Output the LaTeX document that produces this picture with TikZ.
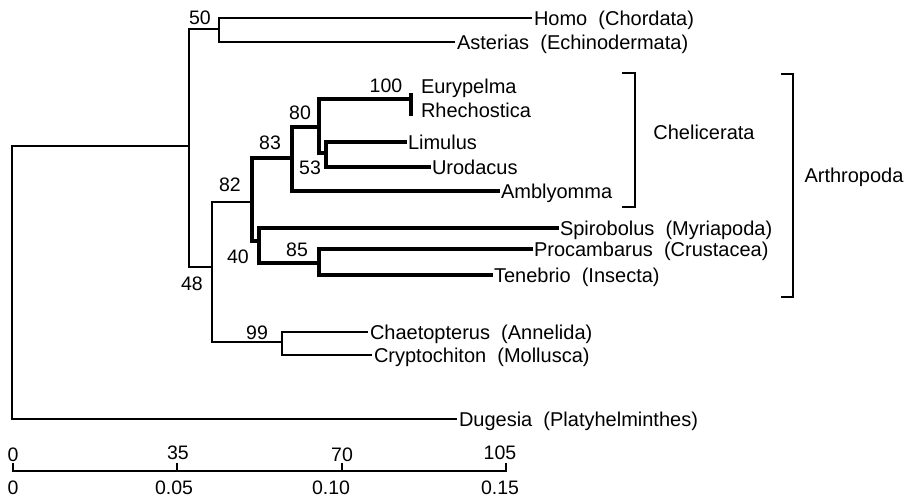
\documentclass[tikz,border=0pt]{standalone}
\usepackage{fontspec}
\setmainfont{Liberation Sans}
\begin{document}
\begin{tikzpicture}[x=1pt,y=-1pt,
  br/.style={line width=1.2pt, line cap=rect, line join=miter},
  brb/.style={line width=3.4pt, line cap=rect, line join=miter},
  lab/.style={anchor=west, inner sep=0pt, outer sep=3pt, text height=14.3pt, text depth=0pt, font=\fontsize{20}{24}\selectfont},
  grp/.style={inner sep=0pt, text height=14.3pt, text depth=0pt, font=\fontsize{20}{24}\selectfont},
  bs/.style={inner sep=0pt, text height=13.6pt, text depth=0pt, font=\fontsize{19.5}{22}\selectfont}]
\useasboundingbox (0,0) rectangle (918,501);
% internal nodes
\coordinate (R) at (12,146);
\coordinate (A) at (189,146);
\coordinate (B) at (219,29);
\coordinate (C) at (212,267);
\coordinate (D) at (252,202);
\coordinate (F) at (292,158);
\coordinate (H) at (319,127);
\coordinate (I) at (411,99);
\coordinate (eu) at (411,95);
\coordinate (rh) at (411,114);
\coordinate (J) at (326,153);
\coordinate (G) at (259,241);
\coordinate (K) at (319,263);
\coordinate (E) at (282,342);
% leaves
\node[lab] (homo) at (531,18) {Homo\ \ (Chordata)};
\node[lab] (aste) at (454,42) {Asterias\ \ (Echinodermata)};
\node[lab] (eury) at (418,86) {Eurypelma};
\node[lab] (rhec) at (418,110) {Rhechostica};
\node[lab] (limu) at (405,142) {Limulus};
\node[lab] (urod) at (429,167) {Urodacus};
\node[lab] (ambl) at (498,191) {Amblyomma};
\node[lab] (spir) at (557,228) {Spirobolus\ \ (Myriapoda)};
\node[lab] (proc) at (531,249) {Procambarus\ \ (Crustacea)};
\node[lab] (tene) at (491,275) {Tenebrio\ \ (Insecta)};
\node[lab] (chae) at (367,332) {Chaetopterus\ \ (Annelida)};
\node[lab] (cryp) at (371,355) {Cryptochiton\ \ (Mollusca)};
\node[lab] (dug) at (456,419) {Dugesia\ \ (Platyhelminthes)};
% bootstrap values
\node[bs] (b50) at (200,18) {50};
\node[bs] (b100) at (386,86) {100};
\node[bs] (b80) at (300,113) {80};
\node[bs] (b83) at (270,143) {83};
\node[bs] (b53) at (310,168) {53};
\node[bs] (b82) at (230,185) {82};
\node[bs] (b40) at (238,257) {40};
\node[bs] (b85) at (297,250) {85};
\node[bs] (b48) at (192,284) {48};
\node[bs] (b99) at (257,333) {99};
% tree
\draw[br] (A) -- (R) |- (dug.west);
\draw[br] (A) |- (B);
\draw[br] (A) |- (C);
\draw[br] (B) |- (homo.west);
\draw[br] (B) |- (aste.west);
\draw[br] (C) |- (D);
\draw[br] (C) |- (E);
\draw[brb] (D) |- (F);
\draw[brb] (D) |- (G);
\draw[brb] (F) |- (H);
\draw[brb] (F) |- (ambl.west);
\draw[brb] (H) |- (I);
\draw[brb] (H) |- (J);
\draw[brb] (eu) -- (rh);
\draw[brb] (J) |- (limu.west);
\draw[brb] (J) |- (urod.west);
\draw[brb] (G) |- (spir.west);
\draw[brb] (G) |- (K);
\draw[brb] (K) |- (proc.west);
\draw[brb] (K) |- (tene.west);
\draw[br] (E) |- (chae.west);
\draw[br] (E) |- (cryp.west);
% brackets
\coordinate (c1) at (623,73);
\coordinate (c2) at (635,73);
\coordinate (c3) at (635,207);
\coordinate (c4) at (623,207);
\draw[br] (c1) -- (c2) -- (c3) -- (c4);
\node[grp] (chel) at (704,132) {Chelicerata};
\coordinate (a1) at (782,74);
\coordinate (a2) at (793,74);
\coordinate (a3) at (793,297);
\coordinate (a4) at (782,297);
\draw[br] (a1) -- (a2) -- (a3) -- (a4);
\node[grp] (arth) at (854,175) {Arthropoda};
% scale bar
\coordinate (s0) at (13,471);
\coordinate (s1) at (177,471);
\coordinate (s2) at (342,471);
\coordinate (s3) at (506,471);
\coordinate (u0) at (13,464);
\coordinate (u1) at (177,464);
\coordinate (u2) at (342,464);
\coordinate (u3) at (506,464);
\draw[br] (s0) -- (s3);
\draw[br] (s0) -- (u0);
\draw[br] (s1) -- (u1);
\draw[br] (s2) -- (u2);
\draw[br] (s3) -- (u3);
\node[bs] (k0) at (13,455) {0};
\node[bs] (k35) at (178,453) {35};
\node[bs] (k70) at (342,455) {70};
\node[bs] (k105) at (500,453) {105};
\node[bs] (d0) at (13,488) {0};
\node[bs] (d5) at (174,488) {0.05};
\node[bs] (d10) at (331,488) {0.10};
\node[bs] (d15) at (500,488) {0.15};
\end{tikzpicture}
\end{document}
